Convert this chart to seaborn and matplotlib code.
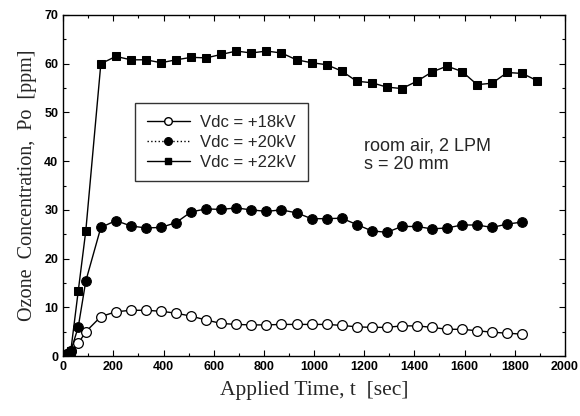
import pandas as pd
import matplotlib
matplotlib.use('Agg')
import matplotlib.pyplot as plt
from matplotlib.lines import Line2D
from matplotlib.ticker import MultipleLocator
import seaborn as sns

sns.set_theme(style='white')
plt.rcParams['font.family'] = ['Liberation Sans', 'DejaVu Sans']

# applied time [sec]
t_early = [15, 30, 60, 90]
t_22 = t_early + list(range(150, 1891, 60))
t_20 = t_early + list(range(150, 1831, 60))
t_18 = t_early + list(range(150, 1831, 60))

# ozone concentration [ppm]
po_22 = [0.5, 1.0, 13.4, 25.7,
         60.0, 61.5, 60.8, 60.8, 60.2, 60.8, 61.3, 61.2, 61.9, 62.6,
         62.2, 62.6, 62.2, 60.8, 60.2, 59.8, 58.5, 56.4,
         56.1, 55.2, 54.9, 56.4, 58.3, 59.5, 58.4, 55.7, 56.0, 58.2, 58.0, 56.5]
po_20 = [0.5, 1.0, 6.0, 15.4,
         26.4, 27.8, 26.7, 26.3, 26.4, 27.4, 29.6, 30.2, 30.1, 30.4,
         30.0, 29.7, 30.0, 29.4, 28.2, 28.2, 28.3, 27.0,
         25.7, 25.4, 26.6, 26.6, 26.1, 26.3, 26.9, 26.9, 26.4, 27.1, 27.5]
po_18 = [0.5, 1.0, 2.6, 5.0,
         8.1, 9.1, 9.4, 9.4, 9.2, 8.8, 8.2, 7.4, 6.7, 6.5,
         6.4, 6.4, 6.5, 6.5, 6.5, 6.5, 6.3, 6.0,
         5.9, 5.9, 6.2, 6.2, 5.9, 5.5, 5.5, 5.2, 4.9, 4.7, 4.5]

labels = ['Vdc = +18kV', 'Vdc = +20kV', 'Vdc = +22kV']

fig = plt.figure(figsize=(5.8, 4.16), dpi=100)
ax = fig.add_axes([0.109, 0.144, 0.865, 0.82])

sns.lineplot(x=t_18, y=po_18, ax=ax, color='black', lw=1, marker='o', ms=7,
             markerfacecolor='white', markeredgecolor='black', mew=0.9)
sns.lineplot(x=t_20, y=po_20, ax=ax, color='black', lw=1, marker='o', ms=7,
             markerfacecolor='black', markeredgecolor='black')
sns.lineplot(x=t_22, y=po_22, ax=ax, color='black', lw=1, marker='s', ms=5.5,
             markerfacecolor='black', markeredgecolor='black')

ax.set_xlim(0, 2000)
ax.set_ylim(0, 70)
ax.xaxis.set_major_locator(MultipleLocator(200))
ax.xaxis.set_minor_locator(MultipleLocator(100))
ax.yaxis.set_major_locator(MultipleLocator(10))
ax.yaxis.set_minor_locator(MultipleLocator(5))
ax.tick_params(which='both', direction='in', top=True, right=True,
               bottom=True, left=True, colors='black', labelsize=9)
ax.tick_params(which='major', length=4, width=0.8)
ax.tick_params(which='minor', length=2.5, width=0.8)
for lab in ax.get_xticklabels() + ax.get_yticklabels():
    lab.set_fontweight('bold')
for s in ax.spines.values():
    s.set_color('black')
    s.set_linewidth(1)

ax.set_xlabel('Applied Time, t  [sec]', family='Liberation Serif', fontsize=15.5, labelpad=6)
ax.set_ylabel('Ozone  Concentration,  Po  [ppm]', family='Liberation Serif', fontsize=14.5, labelpad=5)

handles = [
    Line2D([], [], color='black', lw=1, marker='o', ms=5.5, markerfacecolor='white', markeredgecolor='black'),
    Line2D([], [], color='black', lw=1, ls=':', marker='o', ms=5.5, markerfacecolor='black'),
    Line2D([], [], color='black', lw=1, marker='s', ms=5, markerfacecolor='black'),
]
leg = ax.legend(handles, labels, loc='upper left', bbox_to_anchor=(0.143, 0.742),
                borderaxespad=0, frameon=True, fancybox=False, edgecolor='black',
                fontsize=12, handlelength=2.6, handletextpad=0.6, borderpad=0.7,
                labelspacing=0.3)
leg.get_frame().set_linewidth(1)

ax.text(0.600, 0.588, 'room air, 2 LPM\ns = 20 mm', transform=ax.transAxes,
        fontsize=13, va='center', ha='left', linespacing=1.1)

fig.savefig('out.png', dpi=100)
